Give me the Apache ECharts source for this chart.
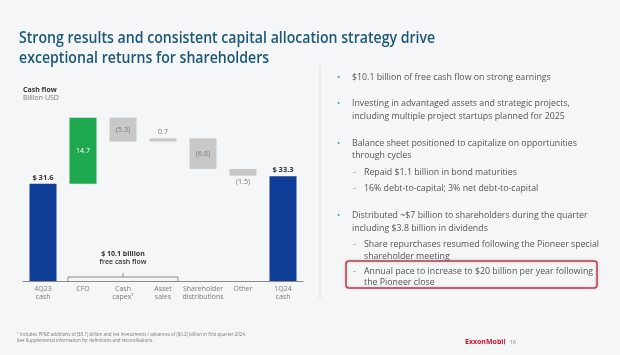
<!DOCTYPE html>
<html><head><meta charset="utf-8">
<script src="https://cdn.jsdelivr.net/npm/echarts@6/dist/echarts.min.js"></script>
<style>html,body{margin:0;padding:0;background:#f5f6f7}#c{width:620px;height:355px}</style>
</head><body><div id="c"></div>
<script>
// ---- data ----
const categories = ['4Q23\ncash', 'CFO', 'Cash\ncapex¹', 'Asset\nsales', 'Shareholder\ndistributions', 'Other', '1Q24\ncash'];
const totalValues = [31.6, null, null, null, null, null, 33.3];
const changeValues = [null, 14.7, -5.3, 0.7, -6.8, -1.5, null];
const fcfLabel = ['$ 10.1 billion', 'free cash flow'];
const fcfFrom = 'CFO';
const fcfTo = 'Asset\nsales';

const titleLines = ['Strong results and consistent capital allocation strategy drive', 'exceptional returns for shareholders'];
const bulletLines = [
  {lvl: 0, t: '$10.1 billion of free cash flow on strong earnings', first: true},
  {lvl: 0, t: 'Investing in advantaged assets and strategic projects,', first: true},
  {lvl: 0, t: 'including multiple project startups planned for 2025'},
  {lvl: 0, t: 'Balance sheet positioned to capitalize on opportunities', first: true},
  {lvl: 0, t: 'through cycles'},
  {lvl: 1, t: 'Repaid $1.1 billion in bond maturities', first: true},
  {lvl: 1, t: '16% debt-to-capital; 3% net debt-to-capital', first: true},
  {lvl: 0, t: 'Distributed ~$7 billion to shareholders during the quarter', first: true},
  {lvl: 0, t: 'including $3.8 billion in dividends'},
  {lvl: 1, t: 'Share repurchases resumed following the Pioneer special', first: true},
  {lvl: 1, t: 'shareholder meeting'},
  {lvl: 1, t: 'Annual pace to increase to $20 billion per year following', first: true},
  {lvl: 1, t: 'the Pioneer close'}
];
const bulletY = [77, 103, 116, 143, 155, 172, 188, 215, 228, 244, 256, 271, 282];
const footnotes = ['¹ Includes PP&E additions of ($5.1) billion and net investments / advances of ($0.2) billion in first quarter 2024.',
  'See Supplemental information for definitions and reconciliations.'];

// ---- derived waterfall ----
const baseValues = [];
let running = totalValues[0];
changeValues.forEach((v, i) => {
  if (v == null) { baseValues.push(null); return; }
  if (v >= 0) { baseValues.push(running); running += v; }
  else { running += v; baseValues.push(running); }
});
const FONT = '"Open Sans", "Noto Sans", sans-serif';
const BLUE = '#0f3d97', GREEN = '#1ea84f', GRAY = '#c8c8c8';

const changeData = changeValues.map((v, i) => {
  if (v == null) return '-';
  const big = Math.abs(v) >= 3;
  const pos = big ? 'inside' : (v >= 0 ? 'top' : 'bottom');
  const color = v >= 0 && big ? GREEN : GRAY;
  return {
    value: Math.abs(v),
    itemStyle: {color},
    label: {position: pos, color: big && v >= 0 ? '#ffffff' : '#777777', distance: 3}
  };
});

const chart = echarts.init(document.getElementById('c'));
chart.setOption({
  backgroundColor: '#f5f6f7',
  animation: false,
  grid: {left: 23, right: 317, top: 101, bottom: 74},
  xAxis: {
    type: 'category', data: categories,
    axisLine: {lineStyle: {color: '#8a8a8a', width: 1}},
    axisTick: {show: false},
    axisLabel: {color: '#7a7a7a', fontSize: 7, lineHeight: 8, margin: 4, fontFamily: FONT, interval: 0}
  },
  yAxis: {type: 'value', min: 10, max: 50, show: false, splitLine: {show: false}},
  series: [
    {
      type: 'bar', stack: 'w', barWidth: 27, data: baseValues.map(v => v == null ? '-' : v),
      itemStyle: {color: 'rgba(0,0,0,0)'}, silent: true
    },
    {
      type: 'bar', stack: 'w', barWidth: 27, data: changeData,
      label: {show: true, fontSize: 7, fontFamily: FONT,
        formatter: p => { const v = changeValues[p.dataIndex]; return v >= 0 ? v.toFixed(1) : '(' + Math.abs(v).toFixed(1) + ')'; }}
    },
    {
      type: 'bar', barWidth: 27, barGap: '-100%', data: totalValues.map(v => v == null ? '-' : v),
      itemStyle: {color: BLUE},
      label: {show: true, position: 'top', distance: 2, fontSize: 7.5, fontWeight: 'bold', color: '#333', fontFamily: FONT,
        formatter: p => '$ ' + p.value.toFixed(1)}
    }
  ]
});

// ---- annotations positioned via the chart's own scales ----
const pFrom = chart.convertToPixel({gridIndex: 0}, [fcfFrom, 10]);
const pTo = chart.convertToPixel({gridIndex: 0}, [fcfTo, 10]);
const bx1 = pFrom[0] - 15, bx2 = pTo[0] + 15, by = pFrom[1] - 4, mid = (bx1 + bx2) / 2;

const g = [];
titleLines.forEach((t, i) => g.push({type: 'text', x: 19, y: 38 + i * 20,
  style: {text: t, font: '600 17px ' + FONT, fill: '#1b5878', verticalAlign: 'middle'}, scaleX: 0.83}));
g.push({type: 'text', x: 23, y: 90, style: {text: 'Cash flow', font: 'bold 7px ' + FONT, fill: '#333', verticalAlign: 'middle'}});
g.push({type: 'text', x: 23, y: 98, style: {text: 'Billion USD', font: '7px ' + FONT, fill: '#777', verticalAlign: 'middle'}});
g.push({type: 'polyline', shape: {points: [[bx1, pFrom[1]], [bx1, by], [bx2, by], [bx2, pFrom[1]]]}, style: {stroke: '#8a8a8a', lineWidth: 1, fill: null}});
g.push({type: 'line', shape: {x1: mid, y1: by, x2: mid, y2: by - 4}, style: {stroke: '#8a8a8a', lineWidth: 1}});
fcfLabel.forEach((t, i) => g.push({type: 'text', x: mid, y: by - 23 + i * 8,
  style: {text: t, font: (i === 0 ? 'bold ' : '600 ') + '7px ' + FONT, fill: '#333', align: 'center', verticalAlign: 'middle'}}));
g.push({type: 'line', shape: {x1: 320, y1: 65, x2: 320, y2: 300}, style: {stroke: '#e0e0e0', lineWidth: 1}});
g.push({type: 'rect', shape: {x: 346, y: 261, width: 251, height: 27, r: 3},
  style: {stroke: '#c23a4c', lineWidth: 1.5, fill: null, shadowBlur: 3, shadowColor: 'rgba(0,0,0,0.25)'}});
bulletLines.forEach((b, i) => {
  const tx = b.lvl === 0 ? 352 : 364;
  const y = bulletY[i];
  if (b.first) g.push({type: 'text', x: b.lvl === 0 ? 337 : 353, y,
    style: {text: b.lvl === 0 ? '•' : '-', font: '8.8px ' + FONT, fill: b.lvl === 0 ? '#5a9aa8' : '#888', verticalAlign: 'middle'}});
  g.push({type: 'text', x: tx, y, style: {text: b.t, font: '8.8px ' + FONT, fill: '#555', verticalAlign: 'middle'}});
});
footnotes.forEach((t, i) => g.push({type: 'text', x: 17, y: 335 + i * 6,
  style: {text: t, font: '4.5px ' + FONT, fill: '#777', verticalAlign: 'middle'}}));
g.push({type: 'text', x: 465, y: 342, style: {text: 'ExxonMobil', font: 'bold 7px ' + FONT, fill: '#d0112b', verticalAlign: 'middle'}});
g.push({type: 'text', x: 503, y: 342, style: {text: '|  16', font: '6px ' + FONT, fill: '#888', verticalAlign: 'middle'}});
chart.setOption({graphic: g});
</script></body></html>
